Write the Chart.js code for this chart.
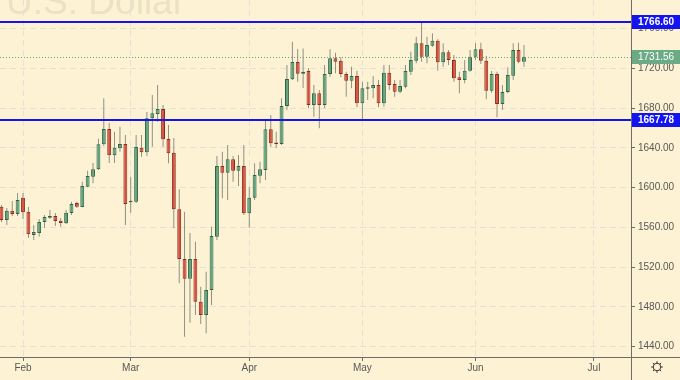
<!DOCTYPE html>
<html><head><meta charset="utf-8">
<script src="https://cdn.jsdelivr.net/npm/chart.js@4.4.1/dist/chart.umd.min.js"></script>
<style>html,body{margin:0;padding:0;background:#fdf3d4;overflow:hidden}#wrap{width:680px;height:380px;position:relative}</style>
</head><body><div id="wrap"><canvas id="c" width="680" height="380"></canvas></div>
<script>
// ---- data (XAU/USD daily, Jan 28 – Jun 12 2020) ----
const dates = [
 '2020-01-28','2020-01-29','2020-01-30','2020-01-31',
 '2020-02-03','2020-02-04','2020-02-05','2020-02-06','2020-02-07','2020-02-10','2020-02-11','2020-02-12','2020-02-13','2020-02-14',
 '2020-02-17','2020-02-18','2020-02-19','2020-02-20','2020-02-21','2020-02-24','2020-02-25','2020-02-26','2020-02-27','2020-02-28',
 '2020-03-02','2020-03-03','2020-03-04','2020-03-05','2020-03-06','2020-03-09','2020-03-10','2020-03-11','2020-03-12','2020-03-13',
 '2020-03-16','2020-03-17','2020-03-18','2020-03-19','2020-03-20','2020-03-23','2020-03-24','2020-03-25','2020-03-26','2020-03-27',
 '2020-03-30','2020-03-31',
 '2020-04-01','2020-04-02','2020-04-03','2020-04-06','2020-04-07','2020-04-08','2020-04-09','2020-04-13','2020-04-14','2020-04-15',
 '2020-04-16','2020-04-17','2020-04-20','2020-04-21','2020-04-22','2020-04-23','2020-04-24','2020-04-27','2020-04-28','2020-04-29','2020-04-30',
 '2020-05-01','2020-05-04','2020-05-05','2020-05-06','2020-05-07','2020-05-08','2020-05-11','2020-05-12','2020-05-13','2020-05-14','2020-05-15',
 '2020-05-18','2020-05-19','2020-05-20','2020-05-21','2020-05-22','2020-05-25','2020-05-26','2020-05-27','2020-05-28','2020-05-29',
 '2020-06-01','2020-06-02','2020-06-03','2020-06-04','2020-06-05','2020-06-08','2020-06-09','2020-06-10','2020-06-11','2020-06-12'
];
const openPrices = [
 1580.8,1567.4,1576.7,1573.4,
 1589.8,1575.7,1552.3,1554.3,1565.4,1569.7,1571.4,1566.7,1564.1,1574.4,
 1584.5,1580.5,1600.9,1611.0,1618.4,1643.5,1658.9,1632.5,1639.5,1643.8,
 1585.2,1585.8,1640.1,1635.5,1669.7,1674.0,1679.1,1648.9,1635.1,1578.1,
 1528.2,1508.3,1528.2,1485.2,1471.8,1497.0,1550.6,1621.7,1615.0,1628.5,
 1617.0,1621.7,
 1574.1,1589.8,1612.0,1617.7,1658.6,1645.2,1643.8,1682.1,1708.9,1726.3,
 1714.6,1717.3,1683.1,1694.9,1683.1,1714.3,1730.1,1727.6,1714.3,1707.5,1712.3,
 1684.8,1699.5,1699.9,1703.2,1684.8,1715.6,1704.2,1696.5,1701.5,1716.6,1727.6,
 1745.1,1731.7,1742.7,1747.8,1726.0,1736.1,1728.4,1710.9,1708.2,1717.6,
 1731.7,1739.1,1727.6,1697.5,1714.3,1684.1,1696.2,1712.6,1738.4,1726.6
];
const highPrices = [
 1582.5,1579.5,1586.5,1594.5,
 1594.5,1580.5,1562.4,1568.4,1572.4,1577.5,1574.4,1569.4,1577.5,1585.8,
 1585.8,1605.9,1617.0,1624.7,1649.2,1689.8,1665.0,1656.2,1661.3,1652.9,
 1610.9,1652.9,1652.9,1676.0,1693.1,1703.2,1683.1,1663.0,1649.9,1598.3,
 1575.7,1554.3,1545.5,1500.3,1515.4,1560.6,1631.8,1636.1,1642.8,1631.8,
 1632.8,1642.8,
 1600.9,1624.4,1626.1,1668.0,1673.0,1656.2,1689.8,1723.3,1746.8,1739.4,
 1739.9,1720.0,1703.2,1698.2,1723.3,1739.1,1735.7,1731.1,1716.6,1721.6,1717.6,
 1706.5,1706.5,1712.3,1708.2,1723.3,1723.3,1708.2,1708.2,1723.3,1736.7,1751.8,
 1766.6,1751.8,1755.2,1749.2,1745.1,1738.4,1733.4,1716.6,1728.4,1738.4,
 1745.1,1745.7,1732.4,1717.3,1716.6,1703.2,1721.0,1745.1,1745.7,1743.4
];
const lowPrices = [
 1565.4,1562.4,1571.4,1571.4,
 1568.4,1549.3,1547.3,1550.6,1559.6,1568.4,1561.4,1560.6,1563.4,1572.4,
 1579.5,1580.2,1600.3,1604.3,1617.7,1641.8,1624.7,1624.7,1636.1,1562.4,
 1574.7,1584.5,1631.1,1631.8,1641.1,1666.3,1641.1,1624.4,1559.0,1503.7,
 1450.0,1464.1,1471.8,1462.8,1453.4,1481.9,1547.3,1589.2,1587.5,1605.9,
 1601.6,1572.4,
 1559.6,1587.5,1604.3,1607.6,1641.1,1639.5,1642.8,1678.1,1708.2,1706.5,
 1700.2,1679.8,1671.3,1659.6,1679.8,1711.6,1715.0,1711.0,1691.4,1699.9,1680.8,
 1667.8,1688.1,1689.8,1680.8,1681.4,1698.2,1691.4,1694.9,1699.9,1713.3,1725.0,
 1726.6,1725.0,1741.7,1717.6,1721.6,1723.3,1706.5,1694.9,1704.9,1716.6,
 1728.4,1724.3,1688.8,1695.5,1670.7,1678.1,1694.9,1708.2,1725.0,1721.6
];
const closePrices = [
 1567.4,1576.7,1573.4,1587.5,
 1575.1,1553.0,1555.3,1565.4,1570.4,1571.4,1566.4,1564.4,1574.7,1583.5,
 1580.8,1601.6,1611.7,1618.4,1643.5,1658.9,1632.5,1640.1,1643.8,1583.5,
 1586.5,1640.8,1635.5,1669.7,1674.7,1679.1,1648.6,1634.5,1578.1,1528.2,
 1508.3,1528.2,1485.2,1471.8,1497.0,1551.3,1621.7,1615.0,1628.5,1617.0,
 1621.7,1574.1,
 1589.8,1612.7,1618.4,1658.6,1644.5,1643.8,1682.1,1709.2,1726.3,1714.6,
 1716.6,1683.1,1694.9,1683.1,1714.3,1730.1,1726.6,1714.3,1707.5,1712.3,1684.8,
 1699.9,1700.9,1703.2,1684.8,1715.6,1703.2,1696.5,1702.2,1717.3,1728.4,1745.1,
 1731.7,1743.4,1747.8,1726.0,1736.1,1728.4,1709.9,1708.2,1717.6,1731.7,
 1739.1,1727.6,1697.5,1714.3,1684.1,1696.2,1713.3,1738.4,1726.6,1731.56
];
const monthLabels = ['Feb','Mar','Apr','May','Jun','Jul'];
const priceTicks = [1440,1480,1520,1560,1600,1640,1680,1720,1760];
const levelLines = [1766.60, 1667.78];
const lastPrice = 1731.56;
const watermark = 'Gold Spot / U.S. Dollar';

// ---- styling ----
const BG = '#fdf3d4';
const UP_FILL = '#5fa37c', UP_LINE = '#2d6446';
const DN_FILL = '#d9513e', DN_LINE = '#8c2b1f';
const WICK = '#7f8177';
const GRID = '#e4e1d8';
const AXIS = '#6e6e66';
const TXT = '#575757';
const FONT = '"Liberation Sans", Arial, sans-serif';

// month tick positions derived from the dates (bar index of first trading day)
const monthIdx = {};
dates.forEach((d, i) => { const m = +d.slice(5, 7); if (!(m in monthIdx)) monthIdx[m] = i; });
(function () { // future month start: count weekdays after last bar
  let d = new Date(dates[dates.length - 1] + 'T12:00:00Z'); let n = dates.length - 1;
  const startM = d.getUTCMonth();
  while (true) { d.setUTCDate(d.getUTCDate() + 1); const wd = d.getUTCDay(); if (wd === 0 || wd === 6) continue; n++; if (d.getUTCMonth() !== startM) { monthIdx[d.getUTCMonth() + 1] = n; break; } }
})();
const monthNum = {Feb:2, Mar:3, Apr:4, May:5, Jun:6, Jul:7};
const xTickMap = {};
monthLabels.forEach(l => { xTickMap[monthIdx[monthNum[l]]] = l; });

const bodyColors = openPrices.map((o, i) => closePrices[i] >= o ? UP_FILL : DN_FILL);
const bodyBorders = openPrices.map((o, i) => closePrices[i] >= o ? UP_LINE : DN_LINE);

const decor = {
  id: 'decor',
  beforeDraw(chart) {
    const c = chart.ctx; c.save();
    c.fillStyle = BG; c.fillRect(0, 0, chart.width, chart.height);
    c.font = '37px ' + FONT; c.fillStyle = '#ebe1c3'; c.textAlign = 'right'; c.textBaseline = 'alphabetic';
    c.fillText(watermark, 185, 14);
    c.restore();
  },
  afterDatasetsDraw(chart) {
    const c = chart.ctx, a = chart.chartArea, y = chart.scales.y;
    c.save();
    const yp = Math.round(y.getPixelForValue(lastPrice)) + 0.5;
    c.strokeStyle = '#5fa37c'; c.lineWidth = 1; c.setLineDash([1, 2]);
    c.beginPath(); c.moveTo(a.left, yp); c.lineTo(a.right, yp); c.stroke();
    c.setLineDash([]);
    c.strokeStyle = '#1414ee'; c.lineWidth = 2;
    levelLines.forEach(v => { const py = Math.round(y.getPixelForValue(v)); c.beginPath(); c.moveTo(a.left, py); c.lineTo(a.right, py); c.stroke(); });
    c.restore();
  },
  afterDraw(chart) {
    const c = chart.ctx, a = chart.chartArea, y = chart.scales.y;
    c.save();
    c.strokeStyle = AXIS; c.lineWidth = 1;
    c.beginPath(); c.moveTo(a.right, a.bottom + 0.5); c.lineTo(chart.width, a.bottom + 0.5); c.stroke();
    c.beginPath(); c.moveTo(a.right + 0.5, a.bottom); c.lineTo(a.right + 0.5, chart.height); c.stroke();
    const box = (v, fill, bold) => {
      const py = y.getPixelForValue(v);
      c.fillStyle = fill; c.fillRect(a.right + 1, Math.round(py) - 7, chart.width - a.right - 1, 14);
      c.fillStyle = '#ffffff'; c.font = (bold ? 'bold ' : '') + '10px ' + FONT; c.textAlign = 'left'; c.textBaseline = 'middle';
      c.fillText(v.toFixed(2), a.right + 7, Math.round(py) + 0.5);
    };
    box(lastPrice, '#6aab85', false);
    levelLines.forEach(v => box(v, '#1414ee', true));
    const gx = 657, gy = 367;
    c.strokeStyle = '#333'; c.lineWidth = 1;
    c.beginPath(); c.arc(gx, gy, 3.8, 0, Math.PI * 2); c.stroke();
    for (let k = 0; k < 8; k++) { const ang = k * Math.PI / 4; c.beginPath(); c.moveTo(gx + Math.cos(ang) * 3.8, gy + Math.sin(ang) * 3.8); c.lineTo(gx + Math.cos(ang) * 5.8, gy + Math.sin(ang) * 5.8); c.stroke(); }
    c.restore();
  }
};

new Chart(document.getElementById('c'), {
  type: 'bar',
  data: {
    datasets: [
      { label: 'body', data: dates.map((d, i) => ({ x: i, y: [openPrices[i], closePrices[i]] })),
        backgroundColor: bodyColors, borderColor: bodyBorders, borderWidth: 1, borderSkipped: false,
        grouped: false, barPercentage: 0.9, maxBarThickness: 5, minBarLength: 1.5, order: 0 },
      { label: 'wick', data: dates.map((d, i) => ({ x: i, y: [lowPrices[i], highPrices[i]] })),
        backgroundColor: WICK, borderWidth: 0, grouped: false, barPercentage: 0.2, maxBarThickness: 1, order: 1 }
    ]
  },
  options: {
    responsive: false, animation: false, events: [],
    layout: { padding: 0 },
    plugins: { legend: { display: false }, tooltip: { enabled: false } },
    scales: {
      x: { type: 'linear', min: -0.27, max: 116.87, offset: false,
        grid: { offset: false, color: GRID, lineWidth: 1, tickColor: AXIS, tickLength: 4, drawTicks: true },
        border: { color: AXIS, dash: [6, 4] },
        ticks: { color: TXT, font: { family: FONT, size: 10 }, padding: 1, maxRotation: 0, autoSkip: false,
                 callback: v => xTickMap[v] || '' },
        afterBuildTicks: s => { s.ticks = Object.keys(xTickMap).map(k => ({ value: +k })); },
        afterFit: s => { s.height = 23; s.paddingLeft = 0; s.paddingRight = 0; } },
      y: { position: 'right', min: 1429.6, max: 1788.7,
        grid: { color: GRID, lineWidth: 1, tickColor: AXIS, tickLength: 4 },
        border: { color: AXIS, dash: [6, 4] },
        ticks: { color: TXT, font: { family: FONT, size: 10 }, padding: 3, callback: v => v.toFixed(2) },
        afterBuildTicks: s => { s.ticks = priceTicks.map(v => ({ value: v })); },
        afterFit: s => { s.width = 49; s.paddingTop = 0; s.paddingBottom = 0; } }
    }
  },
  plugins: [decor]
});
</script></body></html>
